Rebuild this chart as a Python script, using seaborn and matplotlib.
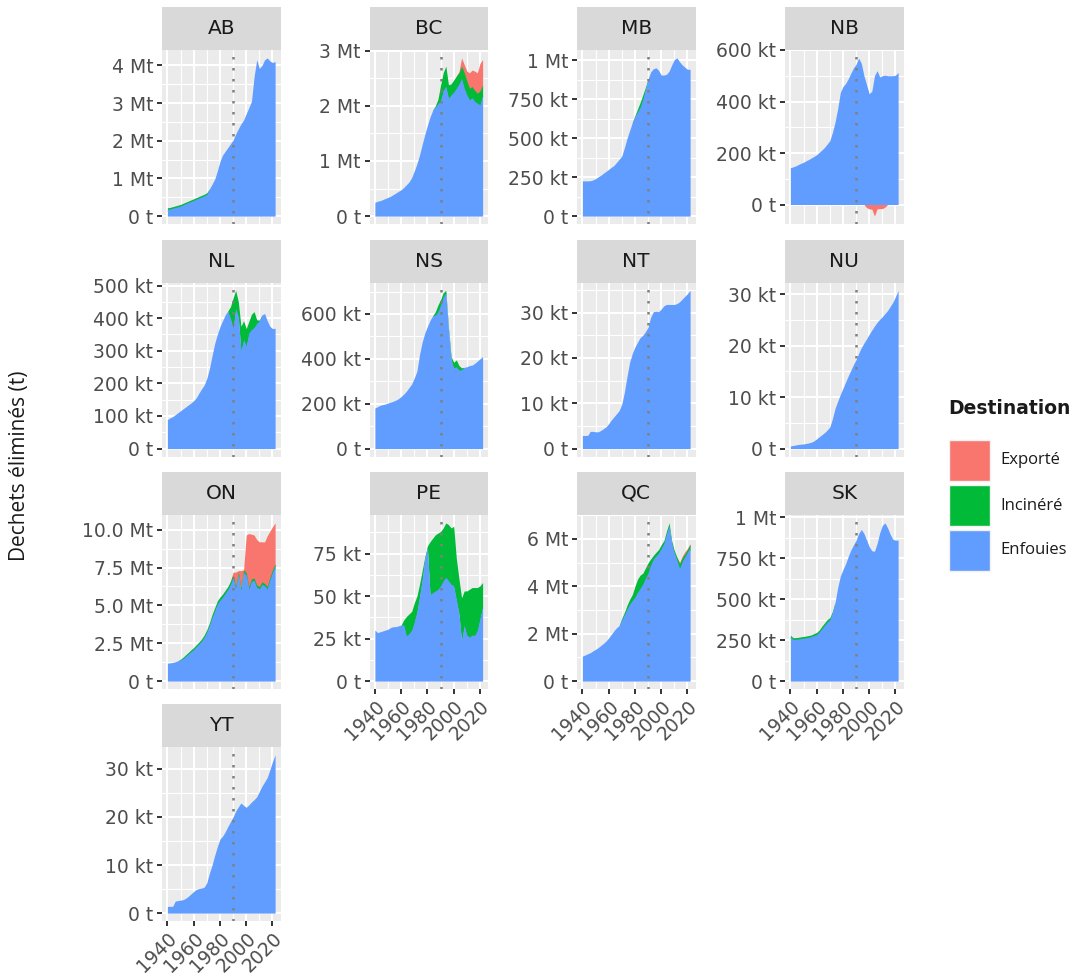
import numpy as np
import pandas as pd
import matplotlib
matplotlib.use("Agg")
import matplotlib.pyplot as plt
import seaborn as sns
from matplotlib.patches import Rectangle

# ---------------- data ----------------
YEARS = list(range(1940, 2023, 2))
PROVINCES = ["AB", "BC", "MB", "NB", "NL", "NS", "NT", "NU", "ON", "PE", "QC", "SK", "YT"]
LEGEND_ORDER = ["Exporté", "Incinéré", "Enfouies"]
STACK_ORDER = ["Enfouies", "Incinéré", "Exporté"]
COLORS = {"Exporté": "#F8766D", "Incinéré": "#00BA38", "Enfouies": "#619CFF"}
UNIT = {"AB": 1e6, "BC": 1e6, "MB": 1e3, "NB": 1e3, "NL": 1e3, "NS": 1e3, "NT": 1e3,
        "NU": 1e3, "ON": 1e6, "PE": 1e3, "QC": 1e6, "SK": 1e3, "YT": 1e3}

AB_ENF = [0.18, 0.19, 0.21, 0.23, 0.25, 0.27, 0.30, 0.33, 0.36, 0.39,
          0.42, 0.45, 0.48, 0.51, 0.54, 0.58, 0.72, 0.85, 0.98, 1.20,
          1.45, 1.62, 1.72, 1.82, 1.92, 2.02, 2.18, 2.32, 2.45, 2.55,
          2.72, 2.88, 3.05, 3.70, 4.15, 3.92, 4.00, 4.15, 4.20, 4.12,
          4.08, 4.10]
AB_INC = [0.04, 0.04, 0.04, 0.04, 0.04, 0.04, 0.04, 0.04, 0.04, 0.04,
          0.04, 0.04, 0.04, 0.04, 0.04, 0.04, 0, 0, 0, 0,
          0, 0, 0, 0, 0, 0, 0, 0, 0, 0,
          0, 0, 0, 0, 0, 0, 0, 0, 0, 0,
          0, 0]

BC_ENF = [0.25, 0.27, 0.28, 0.30, 0.32, 0.34, 0.36, 0.39, 0.42, 0.45,
          0.48, 0.52, 0.57, 0.62, 0.70, 0.82, 0.95, 1.11, 1.30, 1.48,
          1.65, 1.80, 1.92, 1.98, 2.04, 2.10, 2.28, 2.36, 2.14, 2.20,
          2.25, 2.32, 2.40, 2.50, 2.32, 2.20, 2.11, 2.15, 2.08, 2.05,
          2.02, 2.20]
BC_INC = [0, 0, 0, 0, 0, 0, 0, 0, 0, 0,
          0, 0, 0, 0, 0, 0, 0, 0, 0, 0,
          0, 0, 0, 0.02, 0.08, 0.28, 0.32, 0.36, 0.24, 0.20,
          0.22, 0.22, 0.20, 0.22, 0.28, 0.25, 0.21, 0.20, 0.20, 0.18,
          0.25, 0.18]
BC_EXP = [0, 0, 0, 0, 0, 0, 0, 0, 0, 0,
          0, 0, 0, 0, 0, 0, 0, 0, 0, 0,
          0, 0, 0, 0, 0, 0, 0, 0, 0, 0,
          0, 0, 0.02, 0.15, 0.15, 0.18, 0.28, 0.30, 0.35, 0.37,
          0.50, 0.46]

MB_ENF = [226, 226, 226, 227, 232, 240, 252, 262, 275, 287,
          300, 313, 325, 345, 365, 385, 440, 500, 550, 600,
          640, 670, 700, 750, 815, 880, 925, 945, 952, 935,
          905, 905, 910, 930, 970, 1005, 1015, 990, 970, 955,
          942, 942]
MB_INC = [0, 0, 0, 0, 0, 0, 0, 0, 0, 0,
          0, 0, 0, 0, 0, 0, 0, 0, 0, 0,
          5, 18, 30, 28, 12, 0, 0, 0, 0, 0,
          0, 0, 0, 0, 0, 0, 0, 0, 0, 0,
          0, 0]

NB_ENF = [143, 146, 150, 155, 160, 164, 170, 175, 181, 187,
          194, 203, 212, 222, 235, 248, 280, 320, 372, 435,
          458, 470, 488, 510, 530, 545, 568, 548, 500, 465,
          430, 440, 500, 520, 495, 500, 502, 500, 500, 500,
          502, 513]
NB_EXP = [0, 0, 0, 0, 0, 0, 0, 0, 0, 0,
          0, 0, 0, 0, 0, 0, 0, 0, 0, 0,
          0, 0, 0, 0, 0, 0, 0, 0, 0, -12,
          -17, -18, -45, -17, -16, -16, -10, 0, 0, 0,
          0, 0]

NL_ENF = [89, 94, 98, 104, 110, 116, 122, 128, 134, 140,
          147, 156, 170, 183, 195, 215, 245, 285, 322, 350,
          374, 392, 410, 422, 400, 370, 430, 405, 300, 335,
          315, 355, 365, 372, 384, 392, 410, 414, 392, 375,
          368, 369]
NL_INC = [0, 0, 0, 0, 0, 0, 0, 0, 0, 0,
          0, 0, 0, 0, 0, 0, 0, 0, 0, 0,
          0, 0, 0, 0, 35, 92, 55, 45, 75, 57,
          53, 35, 47, 48, 11, 2, 0, 0, 0, 0,
          0, 0]

NS_ENF = [181, 187, 193, 196, 199, 203, 207, 211, 216, 223,
          232, 243, 256, 272, 288, 315, 345, 420, 475, 515,
          545, 572, 592, 595, 610, 639, 675, 695, 532, 398,
          360, 365, 350, 352, 362, 365, 370, 372, 380, 390,
          400, 410]
NS_INC = [0, 0, 0, 0, 0, 0, 0, 0, 0, 0,
          0, 0, 0, 0, 0, 0, 0, 0, 0, 0,
          0, 0, 0, 15, 30, 25, 20, 10, 8, 12,
          25, 30, 20, 8, 0, 0, 0, 0, 0, 0,
          0, 0]

NT_ENF = [2.9, 2.9, 2.9, 3.8, 3.8, 3.7, 3.7, 4.0, 4.4, 4.8,
          5.5, 6.3, 7.0, 7.7, 8.4, 9.8, 12.5, 16.0, 19.1, 21.0,
          22.4, 23.5, 24.5, 25.0, 25.8, 26.8, 29.0, 30.2, 30.3, 30.2,
          30.8, 31.5, 31.8, 31.8, 31.8, 31.8, 32.0, 32.4, 33.0, 33.6,
          34.2, 34.9]

NU_ENF = [0.5, 0.6, 0.7, 0.8, 0.85, 0.9, 1.0, 1.1, 1.25, 1.5,
          1.9, 2.3, 2.7, 3.1, 3.6, 4.2, 5.8, 7.8, 9.2, 10.5,
          11.7, 12.9, 14.1, 15.2, 16.3, 17.3, 18.5, 19.6, 20.5, 21.3,
          22.2, 23.0, 23.8, 24.5, 25.1, 25.6, 26.2, 26.8, 27.6, 28.4,
          29.5, 30.7]

ON_ENF = [1.18, 1.20, 1.23, 1.28, 1.34, 1.40, 1.50, 1.65, 1.80, 1.95,
          2.10, 2.28, 2.45, 2.65, 2.90, 3.25, 3.70, 4.20, 4.65, 5.10,
          5.35, 5.55, 5.80, 6.05, 6.40, 6.85, 6.10, 7.05, 6.00, 7.20,
          7.00, 6.10, 6.60, 6.65, 6.20, 6.10, 6.40, 6.30, 6.10, 6.70,
          7.20, 7.60]
ON_INC = [0, 0, 0, 0, 0, 0.05, 0.08, 0.10, 0.10, 0.12,
          0.12, 0.12, 0.13, 0.13, 0.15, 0.15, 0.15, 0.20, 0.20, 0.20,
          0.20, 0.20, 0.20, 0.20, 0.20, 0.15, 0.15, 0.15, 0.15, 0.15,
          0.15, 0.15, 0.15, 0.15, 0.15, 0.15, 0.15, 0.15, 0.15, 0.15,
          0.15, 0.15]
ON_EXP = [0, 0, 0, 0, 0, 0, 0, 0, 0, 0,
          0, 0, 0, 0, 0, 0, 0, 0, 0, 0,
          0, 0, 0, 0, 0, 0.20, 0.95, 0.10, 1.15, 0,
          2.50, 3.50, 2.95, 2.85, 3.00, 2.95, 2.65, 2.75, 3.35, 3.05,
          2.85, 2.70]

PE_ENF = [30, 28.5, 29, 29.5, 30, 30.5, 31.5, 32, 32, 32.5,
          33, 33, 26.5, 28, 30, 35, 41, 50, 60, 72,
          79, 51, 52, 53, 54, 56, 59, 61, 59, 57,
          56, 48, 40, 24, 33, 27, 26, 27, 27, 30,
          37, 44]
PE_INC = [0, 0, 0, 0, 0, 0, 0, 0, 0, 0,
          0, 3, 11.5, 11.5, 11, 11, 9, 7, 5, 1,
          0.5, 31, 32, 33, 33, 32, 31, 32, 33, 33,
          35, 24, 20, 25, 20, 26, 28, 28, 28, 25,
          19, 14]

QC_ENF = [1.05, 1.10, 1.15, 1.20, 1.27, 1.34, 1.41, 1.50, 1.59, 1.69,
          1.82, 1.97, 2.12, 2.25, 2.34, 2.60, 2.80, 3.05, 3.25, 3.40,
          3.55, 3.75, 3.92, 4.10, 4.35, 4.56, 4.90, 5.15, 5.28, 5.40,
          5.60, 5.80, 6.20, 6.55, 5.80, 5.40, 5.10, 4.75, 5.05, 5.25,
          5.45, 5.62]
QC_INC = [0, 0, 0, 0, 0, 0, 0, 0, 0, 0,
          0, 0, 0, 0, 0, 0.05, 0.10, 0.15, 0.20, 0.25,
          0.45, 0.55, 0.55, 0.45, 0.42, 0.43, 0.25, 0.15, 0.15, 0.15,
          0.15, 0.12, 0.12, 0.12, 0.10, 0.10, 0.12, 0.20, 0.15, 0.12,
          0.10, 0.15]
QC_EXP = [0, 0, 0, 0, 0, 0, 0, 0, 0, 0,
          0, 0, 0, 0, 0, 0, 0, 0, 0, 0,
          0, 0, 0, 0, 0, 0, 0, 0, 0, 0,
          0, 0, 0, 0, 0, 0, 0, 0.05, 0.07, 0.08,
          0.05, 0.02]

SK_ENF = [270, 255, 255, 257, 260, 262, 265, 268, 272, 278,
          285, 300, 320, 340, 360, 375, 420, 480, 570, 640,
          680, 715, 760, 800, 830, 860, 900, 925, 900, 860,
          820, 795, 792, 840, 905, 950, 965, 935, 895, 865,
          860, 860]
SK_INC = [10, 10, 10, 10, 10, 10, 10, 10, 10, 12,
          12, 12, 15, 15, 15, 12, 5, 0, 0, 0,
          0, 0, 0, 0, 0, 0, 0, 0, 0, 0,
          0, 0, 0, 0, 0, 0, 0, 0, 0, 0,
          0, 0]

YT_ENF = [1.4, 1.4, 1.4, 2.5, 2.6, 2.7, 2.8, 3.1, 3.5, 4.0,
          4.5, 4.9, 5.1, 5.2, 5.4, 6.3, 8.3, 10.0, 12.0, 13.8,
          15.4, 16.0, 16.9, 18.0, 19.0, 20.0, 21.2, 22.1, 22.9, 22.4,
          22.0, 22.5, 23.1, 23.6, 24.2, 25.3, 26.4, 27.3, 28.2, 29.8,
          31.5, 32.9]

SERIES = {
    "AB": {"Enfouies": AB_ENF, "Incinéré": AB_INC},
    "BC": {"Enfouies": BC_ENF, "Incinéré": BC_INC, "Exporté": BC_EXP},
    "MB": {"Enfouies": MB_ENF, "Incinéré": MB_INC},
    "NB": {"Enfouies": NB_ENF, "Exporté": NB_EXP},
    "NL": {"Enfouies": NL_ENF, "Incinéré": NL_INC},
    "NS": {"Enfouies": NS_ENF, "Incinéré": NS_INC},
    "NT": {"Enfouies": NT_ENF},
    "NU": {"Enfouies": NU_ENF},
    "ON": {"Enfouies": ON_ENF, "Incinéré": ON_INC, "Exporté": ON_EXP},
    "PE": {"Enfouies": PE_ENF, "Incinéré": PE_INC},
    "QC": {"Enfouies": QC_ENF, "Incinéré": QC_INC, "Exporté": QC_EXP},
    "SK": {"Enfouies": SK_ENF, "Incinéré": SK_INC},
    "YT": {"Enfouies": YT_ENF},
}

YTICKS = {
    "AB": [0, 1, 2, 3, 4], "BC": [0, 1, 2, 3], "MB": [0, 250, 500, 750, 1000],
    "NB": [0, 200, 400, 600], "NL": [0, 100, 200, 300, 400, 500], "NS": [0, 200, 400, 600],
    "NT": [0, 10, 20, 30], "NU": [0, 10, 20, 30], "ON": [0, 2.5, 5, 7.5, 10],
    "PE": [0, 25, 50, 75], "QC": [0, 2, 4, 6], "SK": [0, 250, 500, 750, 1000],
    "YT": [0, 10, 20, 30],
}
YLABELS = {
    "AB": ["0 t", "1 Mt", "2 Mt", "3 Mt", "4 Mt"],
    "BC": ["0 t", "1 Mt", "2 Mt", "3 Mt"],
    "MB": ["0 t", "250 kt", "500 kt", "750 kt", "1 Mt"],
    "NB": ["0 t", "200 kt", "400 kt", "600 kt"],
    "NL": ["0 t", "100 kt", "200 kt", "300 kt", "400 kt", "500 kt"],
    "NS": ["0 t", "200 kt", "400 kt", "600 kt"],
    "NT": ["0 t", "10 kt", "20 kt", "30 kt"],
    "NU": ["0 t", "10 kt", "20 kt", "30 kt"],
    "ON": ["0 t", "2.5 Mt", "5.0 Mt", "7.5 Mt", "10.0 Mt"],
    "PE": ["0 t", "25 kt", "50 kt", "75 kt"],
    "QC": ["0 t", "2 Mt", "4 Mt", "6 Mt"],
    "SK": ["0 t", "250 kt", "500 kt", "750 kt", "1 Mt"],
    "YT": ["0 t", "10 kt", "20 kt", "30 kt"],
}
XTICKS = [1940, 1960, 1980, 2000, 2020]
XLABELS = ["1940", "1960", "1980", "2000", "2020"]
VLINE_YEAR = 1990

rows = []
for p in PROVINCES:
    for dest in STACK_ORDER:
        vals = SERIES[p].get(dest)
        if vals is None:
            continue
        for yr, v in zip(YEARS, vals):
            rows.append({"prov": p, "year": yr, "dest": dest, "t": v * UNIT[p]})
df = pd.DataFrame(rows)

# ---------------- style ----------------
sns.set_theme(style="darkgrid", rc={"axes.facecolor": "#EBEBEB", "grid.color": "white",
                                    "figure.facecolor": "white"})
plt.rcParams["font.family"] = ["DejaVu Sans"]

TICK_SIZE = 13.5
STRIP_SIZE = 14.5


def _span_mask(nz):
    """True where the layer is non-zero or next to a non-zero point."""
    return nz | np.r_[nz[1:], False] | np.r_[False, nz[:-1]]


def stacked_area(data, **kws):
    """Stacked areas (ggplot position_stack): positives upward, negatives downward."""
    ax = plt.gca()
    wide = data.pivot(index="year", columns="dest", values="t")
    wide = wide.reindex(columns=STACK_ORDER).fillna(0)
    x = wide.index.values.astype(float)
    tot = wide.values
    hi = np.clip(tot, 0, None).sum(axis=1).max()
    lo = min(0.0, np.clip(tot, None, 0).sum(axis=1).min())
    r = hi - lo
    for sign in (1, -1):
        prev = np.zeros(len(x))
        layers = []
        first = True
        for d in STACK_ORDER:
            v = wide[d].values
            part = np.clip(v, 0, None) if sign > 0 else np.clip(v, None, 0)
            cum = prev + part
            nz = part != 0
            if nz.any():
                if first:
                    layers.append((d, np.zeros(len(x)), cum, np.ones(len(x), bool)))
                    first = False
                else:
                    # start slightly inside the inner layer: hidden by it, so no seam
                    inner = prev - sign * 0.012 * r
                    inner = np.maximum(inner, 0) if sign > 0 else np.minimum(inner, 0)
                    layers.append((d, inner, cum, _span_mask(nz)))
            prev = cum
        for d, bottom, top, mask in reversed(layers):
            ax.fill_between(x, bottom, top, where=mask, facecolor=COLORS[d], lw=0, zorder=2)
    ax.set_ylim(lo - 0.05 * r, hi + 0.05 * r)


g = sns.FacetGrid(df, col="prov", col_wrap=4, col_order=PROVINCES,
                  sharex=True, sharey=False, height=2.2, aspect=0.7)
g.map_dataframe(stacked_area)
g.set_titles("")
g.set_axis_labels("", "")

W, H = 1075, 977
fig = g.figure
fig.set_size_inches(W / 100, H / 100)
fig.set_facecolor("white")

COL_LEFT = [162, 369.5, 577, 785]
ROW_TOP = [50, 282.5, 515, 747]
PW, PH, SH = 118.5, 174, 43

x0, x1 = min(YEARS), max(YEARS)
xr = x1 - x0

for i, p in enumerate(PROVINCES):
    ax = g.axes_dict[p]
    r, c = divmod(i, 4)
    ax.set_position([COL_LEFT[c] / W, 1 - (ROW_TOP[r] + PH) / H, PW / W, PH / H])
    ax.set_facecolor("#EBEBEB")
    for s in ax.spines.values():
        s.set_visible(False)
    ax.set_axisbelow(True)

    ax.set_xlim(x0 - 0.05 * xr, x1 + 0.05 * xr)
    ax.set_xticks(XTICKS)
    ax.set_xticks([1950, 1970, 1990, 2010], minor=True)

    yt = [t * UNIT[p] for t in YTICKS[p]]
    ax.set_yticks(yt)
    ax.set_yticklabels(YLABELS[p])
    step = yt[1] - yt[0]
    lo, hi = ax.get_ylim()
    ymin = [a + step / 2 for a in yt[:-1]]
    if yt[-1] + step / 2 < hi:
        ymin.append(yt[-1] + step / 2)
    if yt[0] - step / 2 > lo:
        ymin.insert(0, yt[0] - step / 2)
    ax.set_yticks(ymin, minor=True)

    ax.grid(which="major", color="white", lw=1.5)
    ax.grid(which="minor", color="white", lw=0.8)
    ax.tick_params(axis="y", which="major", length=3.8, width=1.4, color="#333333",
                   labelsize=TICK_SIZE, labelcolor="#4D4D4D", pad=2.5, left=True)
    ax.tick_params(which="minor", length=0)

    ax.axvline(VLINE_YEAR, color="#808080", lw=1.8, linestyle=(0, (1, 3.4)), zorder=3)

    bottom = i + 4 >= len(PROVINCES)
    if bottom:
        ax.tick_params(axis="x", which="major", length=3.8, width=1.4, color="#333333",
                       labelsize=TICK_SIZE, labelcolor="#4D4D4D", pad=2,
                       bottom=True, labelbottom=True)
        ax.set_xticklabels(XLABELS)
        for lab in ax.get_xticklabels():
            lab.set_rotation(45)
            lab.set_ha("right")
            lab.set_va("top")
            lab.set_rotation_mode("anchor")
    else:
        ax.tick_params(axis="x", which="major", length=0, bottom=False, labelbottom=False)

    ax.add_patch(Rectangle((0, 1), 1, SH / PH, transform=ax.transAxes, clip_on=False,
                           facecolor="#D9D9D9", edgecolor="none", zorder=5))
    ax.text(0.5, 1 + SH / PH / 2, p, transform=ax.transAxes, ha="center", va="center",
            fontsize=STRIP_SIZE, color="#1A1A1A", zorder=6)

# y-axis title
fig.text(20 / W, 1 - 466 / H, "Dechets éliminés (t)", rotation=90, ha="center", va="center",
         family=["Open Sans", "DejaVu Sans"], fontsize=15, color="#1A1A1A")

# legend
fig.text(948 / W, 1 - 408 / H, "Destination", ha="left", va="center", fontsize=13.5,
         fontweight="bold", color="#1A1A1A")
KEY_TOP = 440
KEY = 41
GAP = 45
for k, d in enumerate(LEGEND_ORDER):
    top = KEY_TOP + k * GAP
    fig.add_artist(Rectangle((949 / W, 1 - (top + KEY) / H), KEY / W, KEY / H,
                             transform=fig.transFigure, facecolor=COLORS[d],
                             edgecolor="#F2F2F2", lw=1))
    fig.text(1000 / W, 1 - (top + KEY / 2) / H, d, ha="left", va="center",
             family=["Open Sans", "DejaVu Sans"], fontsize=12, color="#1A1A1A")

fig.savefig("out.png", dpi=100)
